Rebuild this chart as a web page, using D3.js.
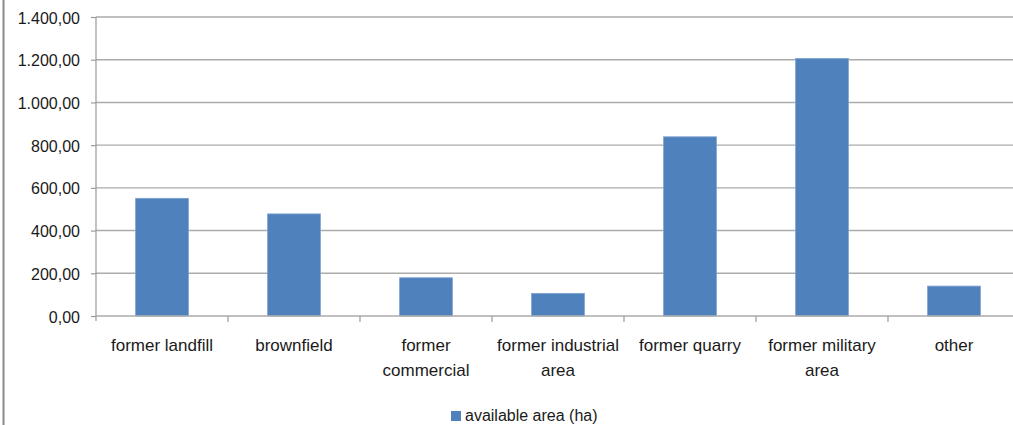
<!DOCTYPE html>
<html>
<head>
<meta charset="utf-8">
<script src="https://cdn.jsdelivr.net/npm/d3@7"></script>
<style>
html, body { margin: 0; padding: 0; background: #ffffff; overflow: hidden; }
svg { display: block; }
</style>
</head>
<body>
<svg id="chart" width="1013" height="425"></svg>
<script>
const categories = ["former landfill", "brownfield", "former commercial", "former industrial area", "former quarry", "former military area", "other"];
const values = [551, 478, 179, 106, 839, 1206, 140];
const yTicks = [0, 200, 400, 600, 800, 1000, 1200, 1400];
const seriesName = "available area (ha)";

const W = 1013, H = 425;
const margin = { left: 96, top: 17, right: -7, bottom: 109 };
const svg = d3.select("#chart");

const x = d3.scaleBand().domain(categories).range([margin.left, W - margin.right]).paddingInner(0.6).paddingOuter(0.3);
const xb = d3.scaleBand().domain(categories).range([margin.left, W - margin.right]);
const y = d3.scaleLinear().domain([0, 1400]).range([H - margin.bottom, margin.top]);

const fmt = v => {
  const s = v.toFixed(2).replace(".", ",");
  const [i, d] = s.split(",");
  return i.replace(/\B(?=(\d{3})+(?!\d))/g, ".") + "," + d;
};

// left frame border
svg.append("line").attr("x1", 3.5).attr("x2", 3.5).attr("y1", 0).attr("y2", H)
  .attr("stroke", "#8c8c8c").attr("stroke-width", 2);

// gridlines
svg.append("g").selectAll("line").data(yTicks.filter(t => t > 0)).join("line")
  .attr("x1", margin.left).attr("x2", W)
  .attr("y1", d => y(d)).attr("y2", d => y(d))
  .attr("stroke", "#ababab").attr("stroke-width", 1.4);

// y axis
const yAxis = d3.axisLeft(y).tickValues(yTicks).tickSize(5).tickPadding(11).tickFormat(fmt);
const gy = svg.append("g").attr("transform", `translate(${margin.left},0)`).call(yAxis);
gy.select(".domain").attr("stroke", "#9a9a9a").attr("stroke-width", 1.2)
  .attr("d", `M0,${y(1400)}V${y(0) + 5}`);
gy.selectAll(".tick line").attr("stroke", "#9a9a9a").attr("stroke-width", 1.2);
gy.selectAll(".tick text").attr("font-family", "Liberation Sans, Arial, sans-serif")
  .attr("font-size", 16).attr("fill", "#1a1a1a").attr("dy", "0.38em");

// bars
svg.append("g").selectAll("rect").data(values).join("rect")
  .attr("x", (d, i) => x(categories[i]))
  .attr("width", x.bandwidth())
  .attr("y", d => y(d))
  .attr("height", d => y(0) - y(d))
  .attr("fill", "#4f81bd")
  .attr("stroke", "#7ea3d0").attr("stroke-width", 0.8);

// x axis
const xAxis = d3.axisBottom(xb).tickSize(0).tickFormat("");
const gx = svg.append("g").attr("transform", `translate(0,${y(0)})`).call(xAxis);
gx.select(".domain").attr("stroke", "#ababab").attr("stroke-width", 1.4)
  .attr("d", `M${margin.left},0H${W}`);
// category boundary ticks
svg.append("g").selectAll("line").data(categories.slice(1)).join("line")
  .attr("x1", d => xb(d)).attr("x2", d => xb(d))
  .attr("y1", y(0)).attr("y2", y(0) + 6)
  .attr("stroke", "#9a9a9a").attr("stroke-width", 1.2);

// category labels with wrapping
const labels = svg.append("g").selectAll("text").data(categories).join("text")
  .attr("x", d => xb(d) + xb.bandwidth() / 2)
  .attr("y", 351)
  .attr("text-anchor", "middle")
  .attr("font-family", "Liberation Sans, Arial, sans-serif")
  .attr("font-size", 17).attr("fill", "#1a1a1a");
labels.each(function (d) {
  const t = d3.select(this);
  const words = d.split(" ");
  const cx = +t.attr("x");
  let line = [];
  let ts = t.append("tspan").attr("x", cx);
  words.forEach(w => {
    line.push(w);
    ts.text(line.join(" "));
    if (ts.node().getComputedTextLength() > 126 && line.length > 1) {
      line.pop();
      ts.text(line.join(" "));
      line = [w];
      ts = t.append("tspan").attr("x", cx).attr("dy", 25).text(w);
    }
  });
});

// legend
const lg = svg.append("g");
lg.append("rect").attr("x", 451).attr("y", 411).attr("width", 10).attr("height", 10).attr("fill", "#4f81bd");
lg.append("text").attr("x", 465).attr("y", 421).attr("font-family", "Liberation Sans, Arial, sans-serif")
  .attr("font-size", 16).attr("fill", "#1a1a1a").text(seriesName);
</script>
</body>
</html>
